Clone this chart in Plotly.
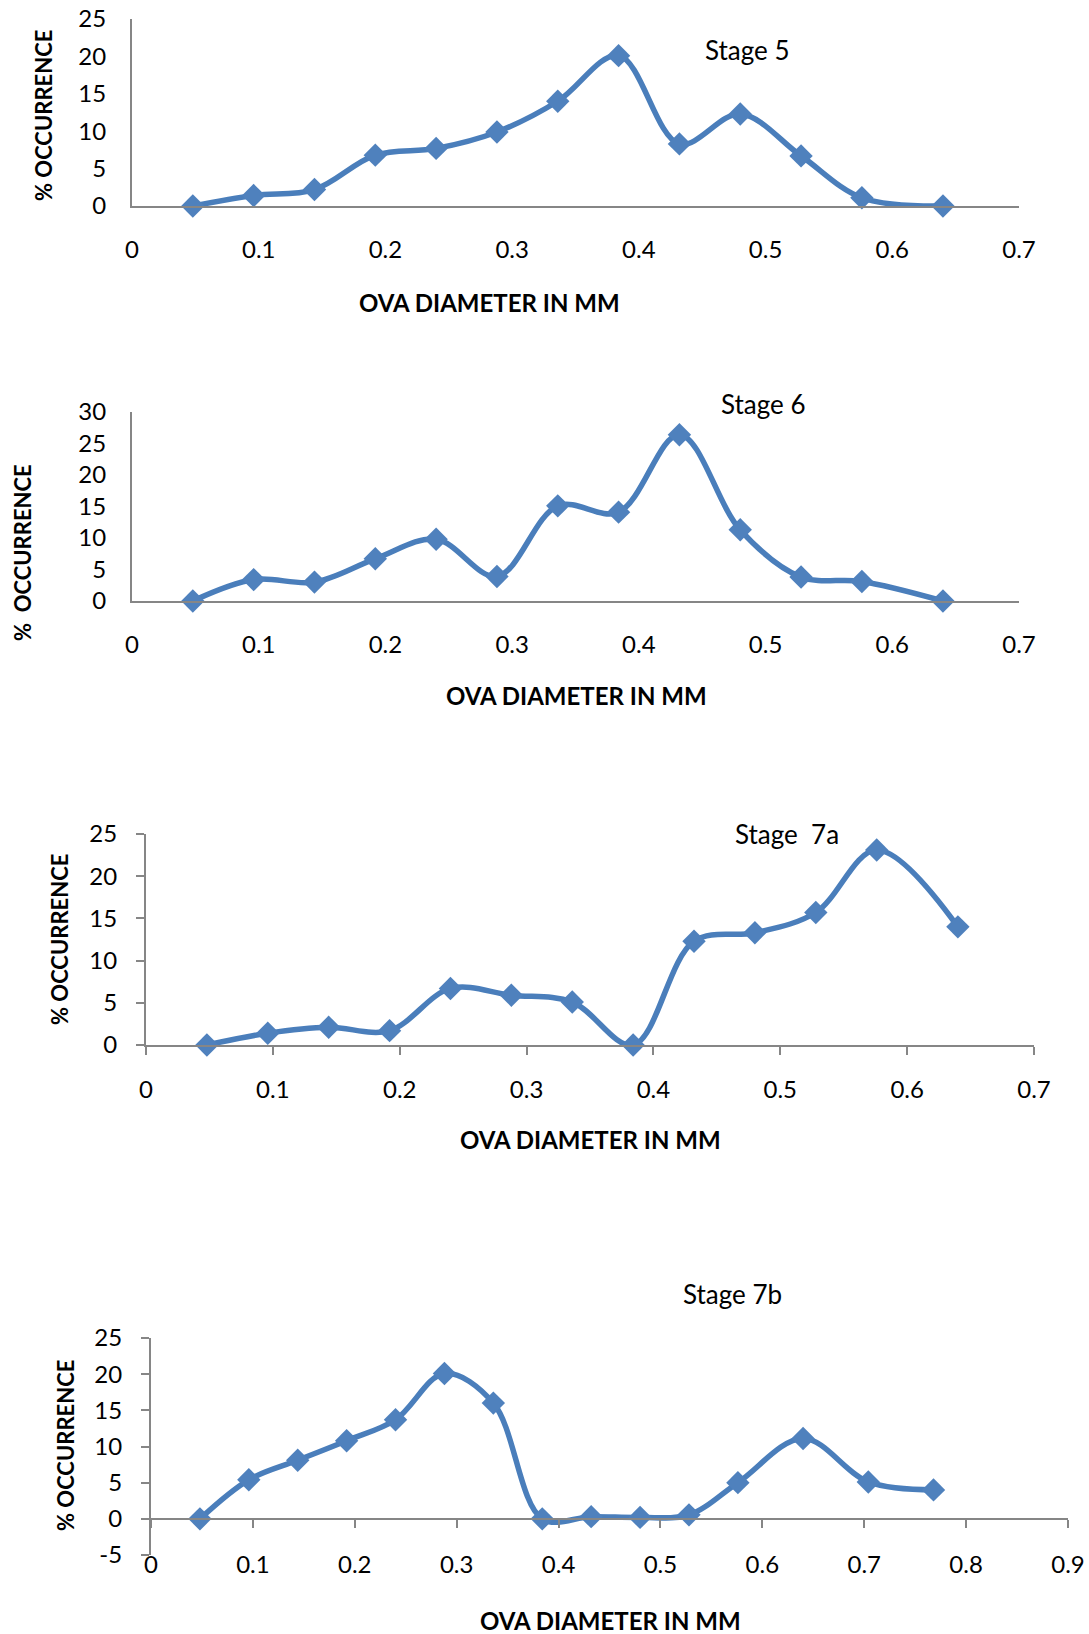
import plotly.graph_objects as go

W, H = 1089, 1634

# ---- data ----
x_stage5 = [0.048, 0.096, 0.144, 0.192, 0.24, 0.288, 0.336, 0.384, 0.432, 0.48, 0.528, 0.576, 0.64]
y_stage5 = [0, 1.4, 2.2, 6.8, 7.7, 9.9, 14.0, 20.1, 8.3, 12.3, 6.7, 1.1, 0]

x_stage6 = [0.048, 0.096, 0.144, 0.192, 0.24, 0.288, 0.336, 0.384, 0.432, 0.48, 0.528, 0.576, 0.64]
y_stage6 = [0, 3.4, 3.0, 6.7, 9.8, 3.9, 15.1, 14.1, 26.4, 11.3, 3.8, 3.1, 0]

x_stage7a = [0.048, 0.096, 0.144, 0.192, 0.24, 0.288, 0.336, 0.384, 0.432, 0.48, 0.528, 0.576, 0.64]
y_stage7a = [0, 1.4, 2.1, 1.7, 6.7, 5.9, 5.1, 0, 12.3, 13.3, 15.7, 23.1, 14.0]

x_stage7b = [0.048, 0.096, 0.144, 0.192, 0.24, 0.288, 0.336, 0.384, 0.432, 0.48, 0.528,
             0.576, 0.64, 0.704, 0.768]
y_stage7b = [0, 5.4, 8.1, 10.8, 13.7, 20.1, 16.0, 0, 0.3, 0.2, 0.55, 5.0, 11.1, 5.1, 4.0]

# tick labels of the Stage 7b y axis (plain hyphen for the negative value)
y7b_tickvals = [-5, 0, 5, 10, 15, 20, 25]
y7b_ticktext = ["-5", "0", "5", "10", "15", "20", "25"]

stage_labels = ["Stage 5", "Stage 6", "Stage  7a", "Stage 7b"]
y_titles = ["% OCCURRENCE", "%  OCCURRENCE", "% OCCURRENCE", "% OCCURRENCE"]
x_title = "OVA DIAMETER IN MM"
x_ranges = [[0, 0.7], [0, 0.7], [0, 0.7], [0, 0.9]]
y_ranges = [[0, 25], [0, 30], [0, 25], [-5, 25]]

series = [(x_stage5, y_stage5), (x_stage6, y_stage6), (x_stage7a, y_stage7a), (x_stage7b, y_stage7b)]

# ---- layout geometry (pixels) ----
plot_px = [  # left, right, top, bottom
    (132, 1019, 19, 206),
    (132, 1019, 412, 601),
    (146, 1034, 834, 1045),
    (151, 1068, 1338, 1555),
]
has_ticks = [False, False, True, True]
x_standoff = [21, 21, 14, 16]
y_standoff = [19, 19, 14, 14]
stage_pos = [(747, 50), (764, 404), (787, 834), (732, 1294)]
xtitle_pos = [(489, 303), (576, 695), (590, 1139), (610, 1620)]
ytitle_pos = [(44, 116), (22, 553), (60, 940), (65, 1446)]

LINE = "#4A7EBB"
MARK = "#4F81BD"
AX = "#868686"
FONT = "Lato, Carlito, 'Open Sans', sans-serif"

def px_x(p):
    return p / W

def px_y(p):
    return 1 - p / H

fig = go.Figure()
layout = dict(
    template="none",
    width=W, height=H, margin=dict(l=0, r=0, t=0, b=0, pad=0, autoexpand=False),
    paper_bgcolor="white", plot_bgcolor="white", showlegend=False,
    font=dict(family=FONT, color="black"),
)
annotations = []

for i, (xs, ys) in enumerate(series):
    n = i + 1
    sfx = "" if n == 1 else str(n)
    fig.add_trace(go.Scatter(
        x=xs, y=ys, mode="lines+markers",
        line=dict(color=LINE, width=5.5, shape="spline", smoothing=1.0),
        marker=dict(symbol="diamond", size=18, color=MARK, line=dict(width=0)),
        xaxis="x" + sfx, yaxis="y" + sfx, cliponaxis=False,
    ))
    l, r, t, b = plot_px[i]
    tick = "outside" if has_ticks[i] else ""
    xa = dict(
        domain=[px_x(l), px_x(r)], range=x_ranges[i], dtick=0.1, tick0=0,
        showgrid=False, zeroline=False, showline=True, linecolor=AX, linewidth=2,
        ticks=tick, ticklen=8, tickwidth=1.5, tickcolor=AX, automargin=False,
        tickfont=dict(size=24, family=FONT, color="black"),
        ticklabelstandoff=x_standoff[i], fixedrange=True,
    )
    ya = dict(
        domain=[px_y(b), px_y(t)], range=y_ranges[i], dtick=5, tick0=0,
        showgrid=False, zeroline=False, showline=True, linecolor=AX, linewidth=2,
        ticks=tick, ticklen=8, tickwidth=1.5, tickcolor=AX, automargin=False,
        tickfont=dict(size=24, family=FONT, color="black"),
        ticklabelstandoff=y_standoff[i], anchor="x" + sfx, fixedrange=True,
    )
    if n == 4:
        # x axis drawn along y = 0
        zero_py = b - (0 - y_ranges[i][0]) / (y_ranges[i][1] - y_ranges[i][0]) * (b - t)
        xa.update(anchor="free", position=px_y(zero_py))
        ya.update(tickmode="array", tickvals=y7b_tickvals, ticktext=y7b_ticktext)
    else:
        xa.update(anchor="y" + sfx)
    layout["xaxis" + sfx] = xa
    layout["yaxis" + sfx] = ya

    sx, sy = stage_pos[i]
    annotations.append(dict(text=stage_labels[i], x=px_x(sx), y=px_y(sy), xref="paper", yref="paper",
                            showarrow=False, xanchor="center", yanchor="middle",
                            font=dict(size=26, family=FONT, color="black")))
    tx, ty = xtitle_pos[i]
    annotations.append(dict(text="<b>" + x_title + "</b>", x=px_x(tx), y=px_y(ty), xref="paper", yref="paper",
                            showarrow=False, xanchor="center", yanchor="middle",
                            font=dict(size=24, family=FONT, color="black")))
    yx, yy = ytitle_pos[i]
    annotations.append(dict(text="<b>" + y_titles[i] + "</b>", x=px_x(yx), y=px_y(yy), xref="paper", yref="paper",
                            showarrow=False, xanchor="center", yanchor="middle", textangle=-90,
                            font=dict(size=22, family=FONT, color="black")))

layout["annotations"] = annotations
fig.update_layout(**layout)
fig.write_html("out.html")
